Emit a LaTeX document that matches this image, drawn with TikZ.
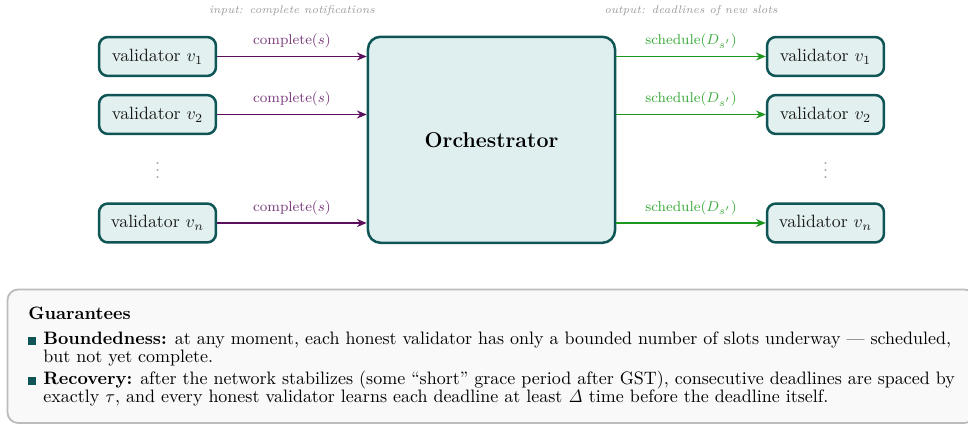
\documentclass[tikz,border=0pt]{standalone}
\usetikzlibrary{arrows.meta,calc}
\definecolor{boxdraw}{HTML}{0F5555}
\definecolor{boxfill}{HTML}{E3F0F0}
\definecolor{orchfill}{HTML}{DFEFEF}
\definecolor{inarrow}{HTML}{5A0E5C}
\definecolor{inlabel}{HTML}{7A3A7C}
\definecolor{outarrow}{HTML}{1E971E}
\definecolor{outlabel}{HTML}{3AAA3A}
\definecolor{notegray}{HTML}{9A9A9A}
\definecolor{panelfill}{HTML}{F9F9F9}
\definecolor{paneldraw}{HTML}{BBBBBB}
\begin{document}
\begin{tikzpicture}[x=0.5618pt,y=-0.5618pt,
  valbox/.style={draw=boxdraw,fill=boxfill,line width=1.4pt,rounded corners=5pt,
    minimum width=65.7pt,minimum height=21.9pt,inner sep=0pt,text=black!90},
  orchbox/.style={draw=boxdraw,fill=orchfill,line width=1.4pt,rounded corners=7pt,
    minimum width=138.8pt,minimum height=115.7pt,inner sep=0pt,font=\large\bfseries},
  inarr/.style={draw=inarrow,line width=1pt,-{Stealth[length=5.5pt,width=4.5pt]}},
  outarr/.style={draw=outarrow,line width=1pt,-{Stealth[length=5.5pt,width=4.5pt]}},
  inlab/.style={text=inlabel,font=\footnotesize,above=3pt,midway,inner sep=1pt},
  outlab/.style={text=outlabel,font=\footnotesize,above=3pt,midway,inner sep=1pt},
  hdr/.style={text=notegray,font=\fontsize{6.3}{7.5}\selectfont\itshape},
  dotsn/.style={text=notegray},
  line/.style={anchor=base west,inner sep=0pt,font=\fontsize{10.1}{12}\selectfont},
  bullet/.style={fill=boxdraw,minimum size=4.5pt,inner sep=0pt}
]
\useasboundingbox (0,0) rectangle (968,425);
\clip (0,0) rectangle (968,425);

% headers
\node[hdr] (hin) at (292,10.5) {input: complete notifications};
\node[hdr] (hout) at (691,10.5) {output: deadlines of new slots};

% orchestrator
\node[orchbox] (orch) at (491.5,139.8) {Orchestrator};

% left validators
\node[valbox] (l1) at (157.5,56.5) {validator $v_1$};
\node[valbox] (l2) at (157.5,114.5) {validator $v_2$};
\node[valbox] (ln) at (157.5,223) {validator $v_n$};
\node[dotsn] (ldots) at (157.5,165) {$\vdots$};

% right validators
\node[valbox] (r1) at (825.5,56.5) {validator $v_1$};
\node[valbox] (r2) at (825.5,114.5) {validator $v_2$};
\node[valbox] (rn) at (825.5,223) {validator $v_n$};
\node[dotsn] (rdots) at (825.5,165) {$\vdots$};

% input arrows
\draw[inarr] (l1.east) -- (l1.east -| orch.west) node[inlab] {complete($s$)};
\draw[inarr] (l2.east) -- (l2.east -| orch.west) node[inlab] {complete($s$)};
\draw[inarr] (ln.east) -- (ln.east -| orch.west) node[inlab] {complete($s$)};

% output arrows
\draw[outarr] (r1.west -| orch.east) -- (r1.west) node[outlab] {schedule($D_{s'}$)};
\draw[outarr] (r2.west -| orch.east) -- (r2.west) node[outlab] {schedule($D_{s'}$)};
\draw[outarr] (rn.west -| orch.east) -- (rn.west) node[outlab] {schedule($D_{s'}$)};

% guarantees panel
\draw[draw=paneldraw,fill=panelfill,line width=1pt,rounded corners=6pt]
  (7.5,289.5) rectangle (975,423);
\node[line,font=\fontsize{10.1}{12}\selectfont\bfseries] (gt) at (28,319.5) {Guarantees};
\node[bullet] (b1) at (32.3,341) {};
\node[line] (t1a) at (43,344.8) {\textbf{Boundedness:} at any moment, each honest validator has only a bounded number of slots underway --- scheduled,};
\node[line] (t1b) at (43,362.8) {but not yet complete.};
\node[bullet] (b2) at (32.3,381) {};
\node[line] (t2a) at (43,384.8) {\textbf{Recovery:} after the network stabilizes (some ``short'' grace period after GST), consecutive deadlines are spaced by};
\node[line] (t2b) at (43,402.8) {exactly $\tau$, and every honest validator learns each deadline at least $\mathit{\Delta}$ time before the deadline itself.};
\end{tikzpicture}
\end{document}
